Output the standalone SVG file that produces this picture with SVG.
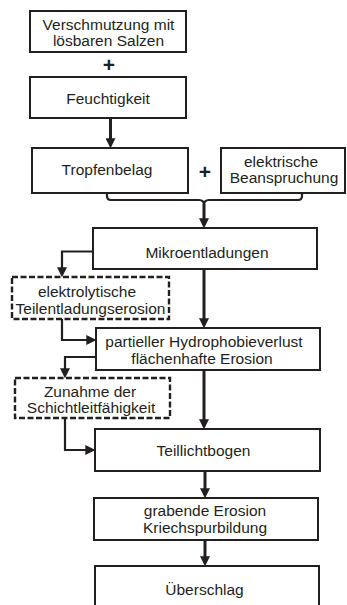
<svg xmlns="http://www.w3.org/2000/svg" width="347" height="605" viewBox="0 0 347 605">
<style>
.box{fill:#fff;stroke:#231f20;stroke-width:2}
.dash{fill:#fff;stroke:#231f20;stroke-width:2.4;stroke-dasharray:6 2.5}
.t{font-family:"Liberation Sans",Arial,sans-serif;font-size:15.5px;fill:#231f20;text-anchor:middle}
.plus{font-family:"Liberation Sans",Arial,sans-serif;font-size:21px;font-weight:bold;fill:#231f20;text-anchor:middle}
.thick{fill:none;stroke:#231f20;stroke-width:3}
.thin{fill:none;stroke:#231f20;stroke-width:2.2}
</style>
<defs>
<marker id="ah" markerUnits="userSpaceOnUse" markerWidth="10" markerHeight="10" refX="6" refY="4.5" orient="auto" viewBox="0 0 9 9">
<path d="M0,0 L9,4.5 L0,9 z" fill="#231f20"/>
</marker>
</defs>
<g id="connectors">
<path class="thick" d="M110.5,118 V145" marker-end="url(#ah)"/>
<path class="thin" d="M107,193 V196 Q107,200 111,200 H199 Q204,200 204,205 Q204,200 209,200 H298 Q302,200 302,196 V193"/>
<path class="thick" d="M204,204 V225" marker-end="url(#ah)"/>
<path class="thick" d="M204,269 V325" marker-end="url(#ah)"/>
<path class="thin" d="M93,251.5 H62 V274" marker-end="url(#ah)"/>
<path class="thin" d="M62,319 V340 H93" marker-end="url(#ah)"/>
<path class="thin" d="M96,357 H65 V375" marker-end="url(#ah)"/>
<path class="thick" d="M204,370 V426" marker-end="url(#ah)"/>
<path class="thin" d="M65,418 V450 H92" marker-end="url(#ah)"/>
<path class="thick" d="M205,471 V495" marker-end="url(#ah)"/>
<path class="thick" d="M205,540 V563" marker-end="url(#ah)"/>
</g>
<g id="n1"><rect class="box" x="30" y="11" width="156" height="41"/>
<text class="t" x="108.5" y="29.5">Verschmutzung mit</text>
<text class="t" x="108.5" y="46">lösbaren Salzen</text></g>
<g id="plus1"><text class="plus" x="109" y="72">+</text></g>
<g id="n2"><rect class="box" x="30" y="77" width="156" height="41"/>
<text class="t" x="108" y="104">Feuchtigkeit</text></g>
<g id="n3"><rect class="box" x="32" y="148" width="156" height="45"/>
<text class="t" x="107" y="175">Tropfenbelag</text></g>
<g id="plus2"><text class="plus" x="205" y="179">+</text></g>
<g id="n4"><rect class="box" x="221" y="148" width="124" height="45"/>
<text class="t" x="281" y="166.5">elektrische</text>
<text class="t" x="284" y="182.5">Beanspruchung</text></g>
<g id="n5"><rect class="box" x="93" y="228" width="224" height="41"/>
<text class="t" x="207" y="258">Mikroentladungen</text></g>
<g id="n6"><rect class="dash" x="12" y="277" width="157" height="42"/>
<text class="t" x="87" y="297">elektrolytische</text>
<text class="t" x="90.5" y="313.5">Teilentladungserosion</text></g>
<g id="n7"><rect class="box" x="96" y="328" width="224" height="42"/>
<text class="t" x="204" y="346.5">partieller Hydrophobieverlust</text>
<text class="t" x="202" y="363.5">flächenhafte Erosion</text></g>
<g id="n8"><rect class="dash" x="15" y="378" width="155" height="40"/>
<text class="t" x="90" y="396.5">Zunahme der</text>
<text class="t" x="91" y="413">Schichtleitfähigkeit</text></g>
<g id="n9"><rect class="box" x="95" y="429" width="225" height="42"/>
<text class="t" x="203.5" y="456">Teillichtbogen</text></g>
<g id="n10"><rect class="box" x="94" y="498" width="224" height="42"/>
<text class="t" x="205" y="516">grabende Erosion</text>
<text class="t" x="205" y="532.5">Kriechspurbildung</text></g>
<g id="n11"><rect class="box" x="95" y="566" width="224" height="50"/>
<text class="t" x="204.5" y="595">Überschlag</text></g>
</svg>
